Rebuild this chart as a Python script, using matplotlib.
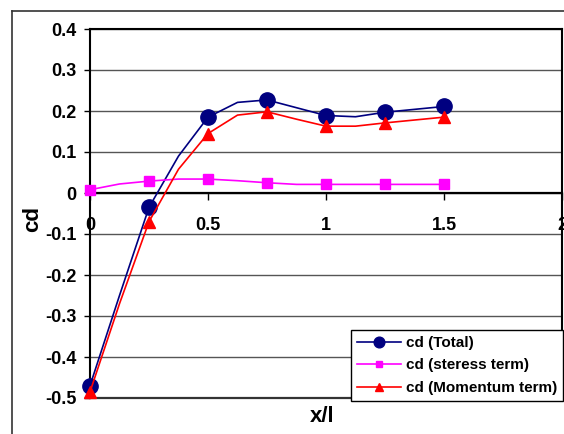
import matplotlib.pyplot as plt
from matplotlib.lines import Line2D

# x/l positions (line points every 0.125, markers every 0.25)
x = [0, 0.125, 0.25, 0.375, 0.5, 0.625, 0.75, 0.875, 1.0, 1.125, 1.25, 1.375, 1.5]
cd_total = [-0.47, -0.25, -0.035, 0.09, 0.185, 0.221, 0.227, 0.208, 0.189, 0.186, 0.197, 0.204, 0.211]
cd_stress = [0.008, 0.022, 0.029, 0.034, 0.034, 0.030, 0.025, 0.021, 0.021, 0.021, 0.021, 0.021, 0.021]
cd_momentum = [-0.485, -0.27, -0.07, 0.058, 0.145, 0.19, 0.198, 0.18, 0.163, 0.163, 0.171, 0.178, 0.185]

x_ticks = [0, 0.5, 1, 1.5, 2]
x_labels = ['0', '0.5', '1', '1.5', '2']
y_ticks = [-0.5, -0.4, -0.3, -0.2, -0.1, 0, 0.1, 0.2, 0.3, 0.4]
y_labels = ['-0.5', '-0.4', '-0.3', '-0.2', '-0.1', '0', '0.1', '0.2', '0.3', '0.4']

plt.rcParams['font.family'] = ['Liberation Sans', 'DejaVu Sans']
plt.rcParams['font.weight'] = 'bold'

W, H = 564, 434
fig = plt.figure(figsize=(W / 100, H / 100), dpi=100)
ax = fig.add_axes([90 / W, 1 - 398 / H, 472 / W, 369 / H])

# outer chart frame
fig.add_artist(Line2D([12 / W, 1.0], [1 - 11 / H, 1 - 11 / H], transform=fig.transFigure,
                      color='#333333', lw=1.2))
fig.add_artist(Line2D([12 / W, 12 / W], [0, 1 - 11 / H], transform=fig.transFigure,
                      color='#333333', lw=1.2))

ax.set_xlim(0, 2)
ax.set_ylim(-0.5, 0.4)

ax.grid(axis='y', color='#555555', lw=1.0)
ax.set_axisbelow(True)

ax.plot(x, cd_total, color='#000080', lw=1.2, marker='o', ms=11, markevery=2,
        label='cd (Total)', clip_on=False, zorder=3)
ax.plot(x, cd_stress, color='#FF00FF', lw=1.2, marker='s', ms=7, markevery=2,
        label='cd (steress term)', clip_on=False, zorder=3)
ax.plot(x, cd_momentum, color='#FF0000', lw=1.2, marker='^', ms=9, markevery=2,
        label='cd (Momentum term)', clip_on=False, zorder=4)

# x axis drawn through y = 0, bottom frame line at -0.5
ax.spines['bottom'].set_position(('data', 0))
ax.spines['bottom'].set_linewidth(1.6)
ax.axhline(-0.5, color='#333333', lw=1.6, clip_on=False, zorder=2)
for s in ['top', 'right', 'left']:
    ax.spines[s].set_linewidth(1.5)
    ax.spines[s].set_color('black')

ax.set_xticks(x_ticks)
ax.set_xticklabels(x_labels)
ax.set_yticks(y_ticks)
ax.set_yticklabels(y_labels)
ax.tick_params(axis='x', direction='out', length=5, width=1, pad=12, labelsize=13)
ax.tick_params(axis='y', direction='out', length=4.5, width=1, pad=5, labelsize=13)
for t in ax.get_xticklabels() + ax.get_yticklabels():
    t.set_fontweight('bold')

fig.text(33 / W, 1 - 219 / H, 'cd', rotation=90, ha='center', va='center',
         fontsize=16, fontweight='bold')
fig.text(322 / W, 1 - 417 / H, 'x/l', ha='center', va='center',
         fontsize=16, fontweight='bold')

leg = ax.legend(loc='lower right', bbox_to_anchor=(563 / W, 1 - 401 / H),
                bbox_transform=fig.transFigure, borderaxespad=0, fancybox=False,
                framealpha=1, edgecolor='black', fontsize=11, markerscale=0.7,
                handlelength=2.9, handletextpad=0.3, labelspacing=0.55, borderpad=0.4)
leg.get_frame().set_linewidth(1.0)
for t in leg.get_texts():
    t.set_fontweight('bold')

fig.savefig('out.png', dpi=100, facecolor='white')
